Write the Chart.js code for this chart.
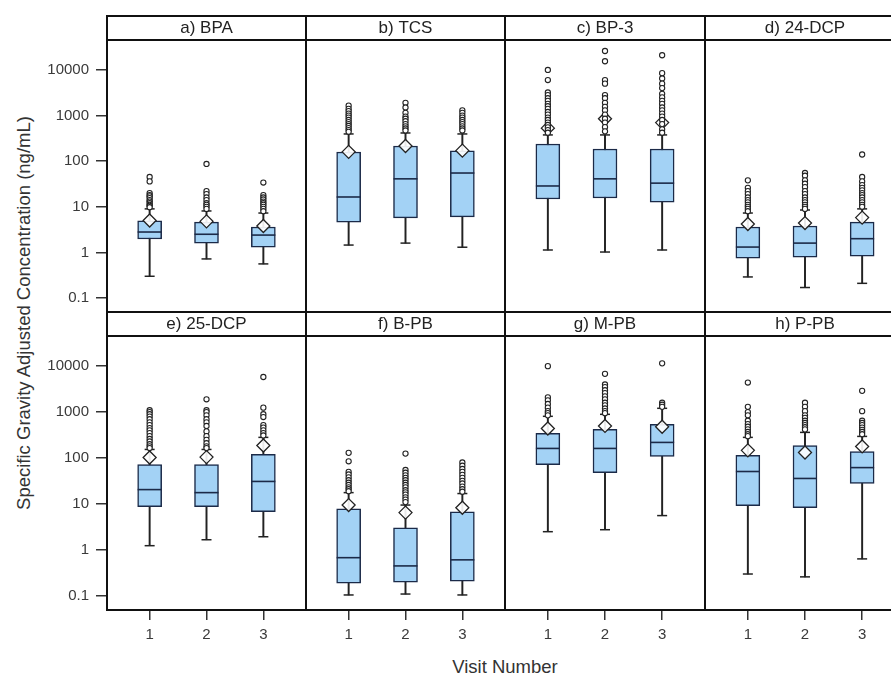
<!DOCTYPE html>
<html>
<head>
<meta charset="utf-8">
<title>Specific Gravity Adjusted Concentration by Visit</title>
<script src="https://cdn.jsdelivr.net/npm/chart.js@4.4.1/dist/chart.umd.min.js"></script>
<style>
  body { margin: 0; background: #fff; }
  #wrap {
    position: relative; width: 891px; height: 675px; overflow: hidden; background: #fff;
    font-family: 'Liberation Sans', Arial, sans-serif; color: #333;
  }
  #wrap canvas { position: absolute; }
  #yTitle {
    position: absolute; left: 24px; top: 313px; white-space: nowrap; font-size: 18.5px;
    transform: translate(-50%, -50%) rotate(-90deg);
  }
  #xTitle {
    position: absolute; left: 505px; top: 667px; white-space: nowrap; font-size: 18.5px;
    transform: translate(-50%, -50%);
  }
</style>
</head>
<body>
<div id="wrap">
  <div id="yTitle">Specific Gravity Adjusted Concentration (ng/mL)</div>
  <div id="xTitle">Visit Number</div>
</div>
<script>
// panels in reading order, row 1 then row 2
const panelNames = ['a) BPA', 'b) TCS', 'c) BP-3', 'd) 24-DCP', 'e) 25-DCP', 'f) B-PB', 'g) M-PB', 'h) P-PB'];
const visits = [1, 2, 3];
const yTicks = [0.1, 1, 10, 100, 1000, 10000];

// box plot numbers, one row per panel, one value per visit
const whiskerLow = [
  [0.30, 0.72, 0.56], [1.45, 1.6, 1.3], [1.13, 1.02, 1.13], [0.29, 0.17, 0.21],
  [1.24, 1.67, 1.94], [0.105, 0.11, 0.105], [2.5, 2.76, 5.6], [0.30, 0.26, 0.64]
];
const q1 = [
  [1.97, 1.6, 1.3], [4.6, 5.7, 6.0], [14.8, 15.6, 12.7], [0.75, 0.79, 0.83],
  [8.8, 8.8, 6.8], [0.19, 0.20, 0.21], [72, 48, 108], [9.2, 8.3, 28]
];
const median = [
  [2.8, 2.5, 2.4], [16.4, 41, 55], [28.6, 41, 33], [1.31, 1.6, 2.0],
  [20.6, 17.7, 31], [0.68, 0.45, 0.61], [162, 162, 219], [51, 36, 62]
];
const q3 = [
  [4.9, 4.6, 3.6], [159, 215, 168], [238, 185, 185], [3.6, 3.8, 4.6],
  [72, 72, 120], [7.9, 3.05, 6.8], [344, 420, 542], [114, 188, 139]
];
const whiskerHigh = [
  [9.0, 8.1, 7.3], [395, 415, 395], [376, 376, 376], [7.3, 8.5, 9.0],
  [154, 154, 282], [17.7, 9.5, 16.9], [810, 895, 1210], [282, 362, 296]
];
const means = [
  [5.0, 4.8, 3.8], [160, 215, 170], [530, 850, 700], [4.2, 4.4, 5.8],
  [103, 105, 188], [9.5, 6.5, 8.3], [440, 500, 480], [147, 132, 179]
];
const outliers = [
  [[45, 36, 20, 18, 17, 15.5, 14, 13, 12, 11, 10.5, 9.8],
   [87, 22, 19, 16, 14, 12, 11, 10, 9],
   [34, 18, 16, 14.5, 13, 12, 11, 10, 9, 8]],
  [[1650, 1400, 1250, 1100, 1000, 900, 800, 720, 650, 590, 530, 480, 440],
   [1900, 1500, 1150, 950, 850, 750, 650, 580, 520, 470],
   [1300, 1150, 1000, 900, 800, 720, 650, 580, 520, 470]],
  [[10000, 6000, 3200, 2800, 2400, 2100, 1800, 1600, 1400, 1200, 1050, 900, 800, 700, 620, 550, 480, 420],
   [26000, 15500, 6000, 5000, 2800, 2400, 1900, 1550, 1300, 1050, 850, 700, 560, 450],
   [21000, 8500, 6500, 5000, 4000, 3000, 2500, 2100, 1800, 1500, 1300, 1100, 950, 800, 650, 500, 420]],
  [[38, 26, 22, 19, 16, 14, 12.5, 11, 10, 9, 8],
   [55, 48, 38, 32, 27, 22, 19, 16, 14, 12.5, 11, 10, 9],
   [140, 45, 36, 30, 26, 23, 20, 18, 16, 14, 12.5, 11, 10]],
  [[1100, 1000, 900, 800, 700, 600, 520, 450, 400, 350, 300, 260, 230, 200, 180, 165],
   [1900, 1100, 1000, 850, 700, 600, 500, 380, 300, 250, 210, 180, 165],
   [5800, 1250, 900, 780, 520, 460, 400, 350, 310]],
  [[130, 85, 50, 44, 38, 33, 29, 26, 23, 21, 19],
   [125, 55, 48, 42, 37, 33, 29, 26, 23, 20, 18, 16, 14, 12.5, 11],
   [80, 68, 58, 50, 43, 37, 32, 28, 24, 21, 18.5]],
  [[10000, 2100, 1800, 1500, 1250, 1050, 950, 850],
   [6800, 4000, 3500, 3000, 2600, 2200, 1900, 1600, 1400, 1200, 1050, 950],
   [11500, 1600, 1450, 1300]],
  [[4400, 1300, 1000, 850, 650, 550, 480, 420, 370, 330, 300],
   [1600, 1300, 1050, 850, 750, 650, 580, 520, 470, 420],
   [2900, 1050, 650, 580, 520, 460, 410, 370, 330]]
];

// page layout (pixels)
const colX = [107, 306, 505, 705, 905];
const stripTop = [16, 312];
const plotBottom = [312, 610];
const stripH = 24;
const pad = 3;
const yAxisW = 100;
const xAxisH = 42;
const yMin = Math.pow(10, -1.306);
const yMax = Math.pow(10, 4.656);

Chart.defaults.font.family = "'Liberation Sans', Arial, sans-serif";
Chart.defaults.color = '#333';

// strip box above the panel and the panel frame
const framePlugin = {
  id: 'frames',
  afterDraw(chart) {
    const {ctx, chartArea: a} = chart;
    ctx.save();
    ctx.strokeStyle = '#111';
    ctx.lineWidth = 2;
    ctx.strokeRect(a.left, a.top - stripH, a.right - a.left, stripH);
    ctx.strokeRect(a.left, a.top, a.right - a.left, a.bottom - a.top);
    ctx.restore();
  }
};

const wrap = document.getElementById('wrap');

panelNames.forEach((name, p) => {
  const row = Math.floor(p / 4);
  const col = p % 4;
  const showY = col === 0;
  const showX = row === 1;
  const plotW = colX[col + 1] - colX[col];
  const plotH = plotBottom[row] - stripTop[row] - stripH;

  const canvas = document.createElement('canvas');
  const w = pad * 2 + plotW + (showY ? yAxisW : 0);
  const h = pad * 2 + stripH + plotH + (showX ? xAxisH : 0);
  canvas.width = w;
  canvas.height = h;
  canvas.style.left = (colX[col] - pad - (showY ? yAxisW : 0)) + 'px';
  canvas.style.top = (stripTop[row] - pad) + 'px';
  wrap.appendChild(canvas);

  const pts = arr => visits.map((v, i) => ({x: v, y: arr[p][i]}));
  const range = (lo, hi) => visits.map((v, i) => ({x: v, y: [lo[p][i], hi[p][i]]}));
  const outlierPts = [];
  visits.forEach((v, i) => outliers[p][i].forEach(y => outlierPts.push({x: v, y: y})));
  const capPts = pts(whiskerLow).concat(pts(whiskerHigh));

  new Chart(canvas, {
    type: 'bar',
    data: {
      datasets: [
        { type: 'scatter', data: outlierPts, pointStyle: 'circle', pointRadius: 2.6,
          pointBackgroundColor: '#fff', pointBorderColor: '#222', pointBorderWidth: 1.1 },
        { type: 'scatter', data: pts(means), pointStyle: 'rectRot', pointRadius: 6.5,
          pointBackgroundColor: 'rgba(255,255,255,0.9)', pointBorderColor: '#222', pointBorderWidth: 1.3 },
        { type: 'scatter', data: pts(median), pointStyle: 'line', pointRadius: 12,
          pointBorderColor: '#1b2a48', pointBorderWidth: 1.6 },
        { type: 'scatter', data: capPts, pointStyle: 'line', pointRadius: 5,
          pointBorderColor: '#222', pointBorderWidth: 1.5 },
        { type: 'bar', data: range(q1, q3), backgroundColor: '#a3d2f5', borderColor: '#1b2a48',
          borderWidth: 1.5, borderSkipped: false, barThickness: 24, grouped: false },
        { type: 'bar', data: range(whiskerLow, whiskerHigh), backgroundColor: '#222',
          borderWidth: 0, barThickness: 1.3, grouped: false }
      ]
    },
    options: {
      responsive: false,
      animation: false,
      events: [],
      layout: { padding: pad, autoPadding: false },
      plugins: {
        legend: { display: false },
        tooltip: { enabled: false },
        title: {
          display: true, text: name, fullSize: false, color: '#222',
          font: { size: 17, weight: 'normal', lineHeight: '18px' },
          padding: { top: 3, bottom: 3 }
        }
      },
      scales: {
        x: {
          type: 'linear', min: 0.25, max: 3.75, offset: false, display: showX,
          afterBuildTicks: s => { s.ticks = visits.map(v => ({value: v})); },
          afterFit: s => { s.height = showX ? xAxisH : 0; s.paddingLeft = 0; s.paddingRight = 0; },
          border: { display: false },
          grid: { offset: false, drawOnChartArea: false, tickLength: 10, color: '#333', lineWidth: 1.5 },
          ticks: { font: { size: 15 }, color: '#3a3a3a', padding: 6, callback: v => String(v) }
        },
        y: {
          type: 'logarithmic', min: yMin, max: yMax, display: showY,
          afterBuildTicks: s => { s.ticks = yTicks.map(v => ({value: v})); },
          afterFit: s => { s.width = showY ? yAxisW : 0; s.paddingTop = 0; s.paddingBottom = 0; },
          border: { display: false },
          grid: { drawOnChartArea: false, tickLength: 11, color: '#333', lineWidth: 1.5 },
          ticks: { font: { size: 15 }, color: '#3a3a3a', padding: 7, autoSkip: false, callback: v => String(v) }
        }
      }
    },
    plugins: [framePlugin]
  });
});
</script>
</body>
</html>
